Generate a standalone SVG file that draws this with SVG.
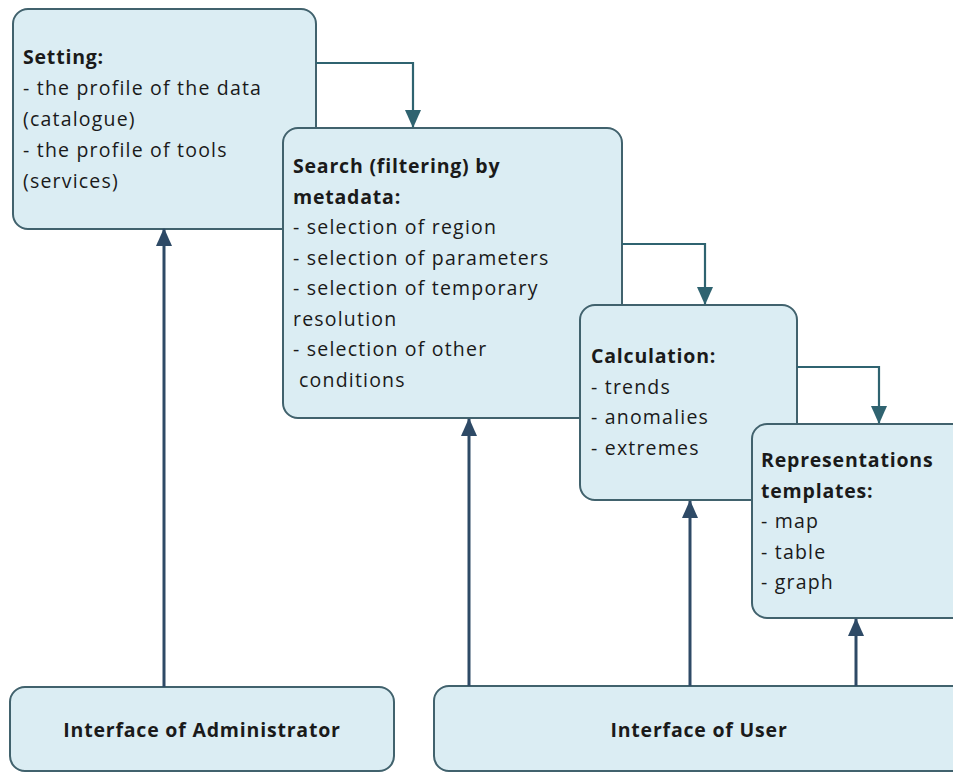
<svg xmlns="http://www.w3.org/2000/svg" width="953" height="772" viewBox="0 0 953 772">
<style>
.box{fill:#dbedf3;stroke:#41626d;stroke-width:2}
.t{font-family:"Open Sans",Lato,"Liberation Sans",sans-serif;font-size:19.5px;fill:#1a1a1a;letter-spacing:1.2px}
.b{font-weight:bold;letter-spacing:0.8px}
.c{text-anchor:middle}
.flow{fill:none;stroke:#2f6370;stroke-width:2.2}
.up{fill:none;stroke:#2e4a66;stroke-width:3}
</style>
<defs>
<marker id="ad" markerUnits="userSpaceOnUse" markerWidth="16" markerHeight="18" refX="8" refY="17" orient="0" viewBox="0 0 16 18">
<path d="M0,0 L16,0 L8,18 Z" fill="#2f6370"/>
</marker>
<marker id="au" markerUnits="userSpaceOnUse" markerWidth="16" markerHeight="18" refX="8" refY="1" orient="0" viewBox="0 0 16 18">
<path d="M8,0 L16,18 L0,18 Z" fill="#2e4a66"/>
</marker>
</defs>
<g id="setting">
<rect class="box" x="13" y="9" width="303" height="220" rx="15"/>
<text class="t b" x="23" y="64">Setting:</text>
<text class="t" x="23" y="95">- the profile of the data</text>
<text class="t" x="23" y="126">(catalogue)</text>
<text class="t" x="23" y="157">- the profile of tools</text>
<text class="t" x="23" y="188">(services)</text>
</g>
<g id="search">
<rect class="box" x="283" y="128" width="339" height="290" rx="15"/>
<text class="t b" x="293" y="173">Search (filtering) by</text>
<text class="t b" x="293" y="204">metadata:</text>
<text class="t" x="293" y="234">- selection of region</text>
<text class="t" x="293" y="265">- selection of parameters</text>
<text class="t" x="293" y="295">- selection of temporary</text>
<text class="t" x="293" y="326">resolution</text>
<text class="t" x="293" y="356">- selection of other</text>
<text class="t" x="299" y="387">conditions</text>
</g>
<g id="calculation">
<rect class="box" x="580" y="305" width="217" height="195" rx="15"/>
<text class="t b" x="591" y="363">Calculation:</text>
<text class="t" x="591" y="394">- trends</text>
<text class="t" x="591" y="424">- anomalies</text>
<text class="t" x="591" y="455">- extremes</text>
</g>
<g id="representations">
<rect class="box" x="752" y="424" width="230" height="194" rx="15"/>
<text class="t b" x="761" y="467">Representations</text>
<text class="t b" x="761" y="498">templates:</text>
<text class="t" x="761" y="528">- map</text>
<text class="t" x="761" y="559">- table</text>
<text class="t" x="761" y="589">- graph</text>
</g>
<g id="admin">
<rect class="box" x="10" y="687" width="384" height="84" rx="15"/>
<text class="t b c" x="202" y="737">Interface of Administrator</text>
</g>
<g id="user">
<rect class="box" x="434" y="686" width="540" height="85" rx="15"/>
<text class="t b c" x="699" y="737">Interface of User</text>
</g>
<g id="connectors">
<path class="flow" d="M316,63 H413 V127" marker-end="url(#ad)"/>
<path class="flow" d="M622,244 H705 V304" marker-end="url(#ad)"/>
<path class="flow" d="M797,367 H879 V423" marker-end="url(#ad)"/>
<path class="up" d="M164,687 V229" marker-end="url(#au)"/>
<path class="up" d="M469,686 V419" marker-end="url(#au)"/>
<path class="up" d="M690,686 V501" marker-end="url(#au)"/>
<path class="up" d="M856,686 V619" marker-end="url(#au)"/>
</g>
</svg>
